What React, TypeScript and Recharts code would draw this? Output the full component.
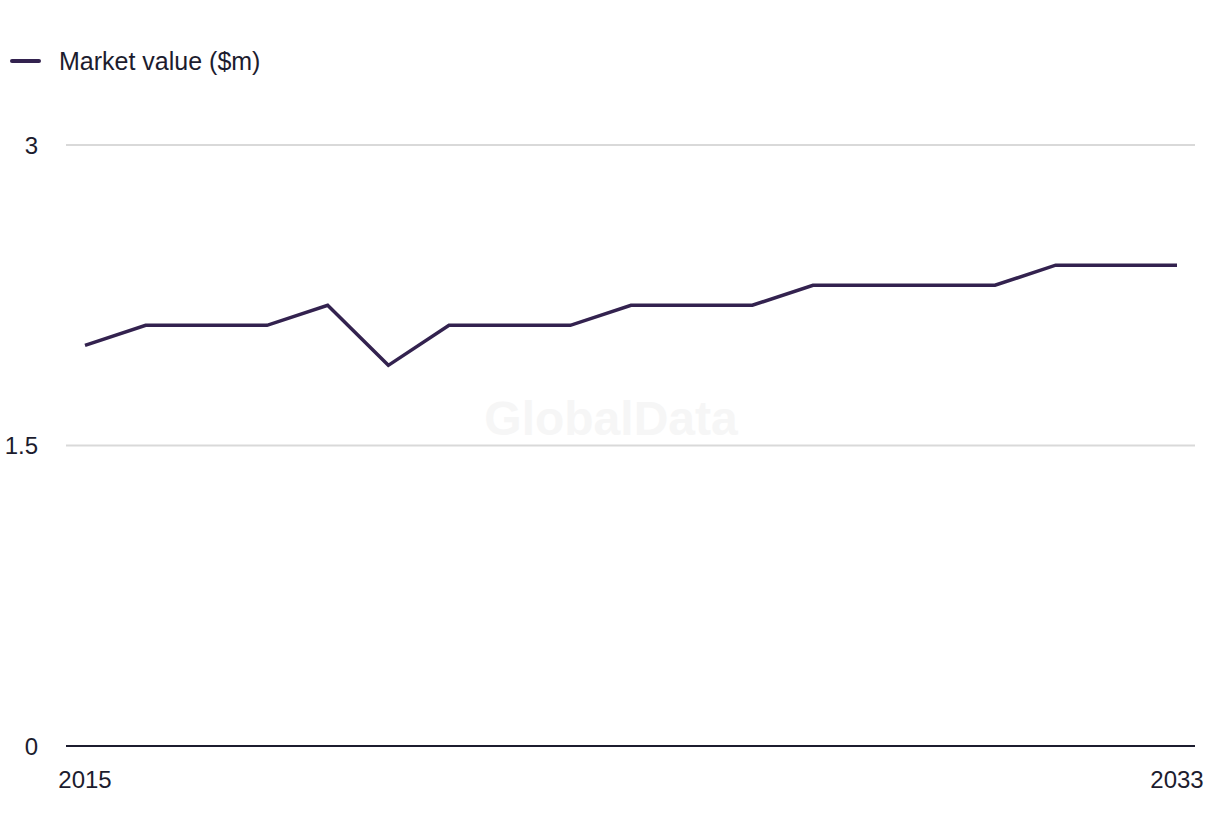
import React from "react";
import { LineChart, Line, XAxis, YAxis, CartesianGrid, Legend, Customized } from "recharts";

const years = [2015, 2016, 2017, 2018, 2019, 2020, 2021, 2022, 2023, 2024, 2025, 2026, 2027, 2028, 2029, 2030, 2031, 2032, 2033];
const marketValue = [2.0, 2.1, 2.1, 2.1, 2.2, 1.9, 2.1, 2.1, 2.1, 2.2, 2.2, 2.2, 2.3, 2.3, 2.3, 2.3, 2.4, 2.4, 2.4];
const yTicks = [0, 1.5, 3];
const xTicks = [2015, 2033];
const seriesName = "Market value ($m)";

const data = years.map((y, i) => ({ year: y, value: marketValue[i] }));

const FONT = "'Liberation Sans', Arial, sans-serif";
const TEXT = "#1c1c2e";
const LINE = "#33224f";

const LegendContent = () => (
  <div style={{ display: "flex", alignItems: "center", height: 40, fontFamily: FONT, fontSize: 25, color: TEXT }}>
    <span style={{ display: "inline-block", width: 31, height: 4, background: LINE, borderRadius: 2, marginRight: 18 }} />
    <span>{seriesName}</span>
  </div>
);

const Watermark = () => (
  <text x={611} y={418} textAnchor="middle" dominantBaseline="central" fontFamily={FONT} fontWeight="bold" fontSize={48} fill="#f6f6f6">
    GlobalData
  </text>
);

export default function App() {
  return (
    <div style={{ width: 1220, height: 836, background: "#fff" }}>
      <style>{"body{margin:0}"}</style>
      <LineChart width={1220} height={836} data={data} margin={{ top: 105, right: 25, bottom: 0, left: 0 }}>
        <Customized component={Watermark} />
        <CartesianGrid horizontal vertical={false} stroke="#d9d9d9" strokeWidth={2} />
        <XAxis
          dataKey="year"
          type="number"
          domain={[2015, 2033]}
          ticks={xTicks}
          padding={{ left: 19, right: 18 }}
          axisLine={{ stroke: TEXT, strokeWidth: 2 }}
          tickLine={false}
          tickSize={0}
          tickMargin={25}
          height={90}
          tick={{ fill: TEXT, fontSize: 24, fontFamily: FONT }}
        />
        <YAxis
          domain={[0, 3]}
          ticks={yTicks}
          axisLine={false}
          tickLine={false}
          tickSize={0}
          tickMargin={28}
          width={66}
          tick={{ fill: TEXT, fontSize: 24, fontFamily: FONT }}
        />
        <Legend verticalAlign="top" align="left" wrapperStyle={{ top: 41, left: 10 }} content={<LegendContent />} />
        <Line dataKey="value" name={seriesName} stroke={LINE} strokeWidth={3.5} dot={false} activeDot={false} isAnimationActive={false} />
      </LineChart>
    </div>
  );
}
